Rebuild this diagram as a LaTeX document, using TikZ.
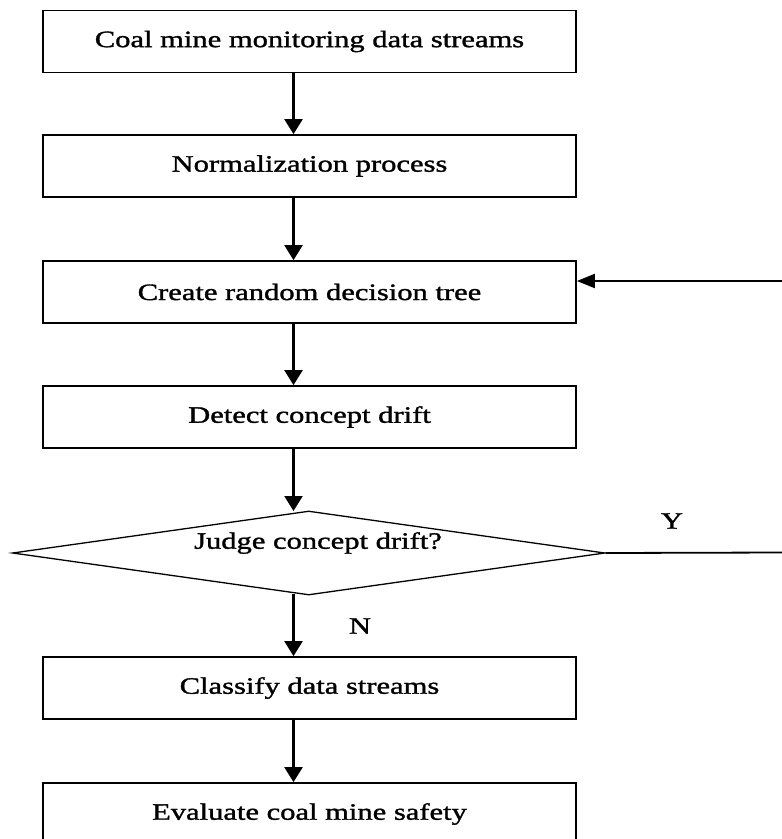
\documentclass[tikz,border=0pt]{standalone}
\usepackage{fontspec}
\setmainfont{Liberation Serif}[FakeStretch=1.3,FakeBold=1.4]
\usetikzlibrary{shapes.geometric,arrows.meta}
\begin{document}
\begin{tikzpicture}[x=1pt,y=-1pt,
  every node/.style={font=\fontsize{23.5}{28}\selectfont},
  stepbox/.style={draw,line width=1.7pt,minimum width=533pt,minimum height=62pt,inner sep=0pt},
  varrow/.style={line width=2.3pt,-{Triangle[width=18pt,length=15pt]}},
  harrow/.style={line width=2pt,-{Triangle[width=14pt,length=18pt]}},
  plainline/.style={line width=1.8pt}]
\useasboundingbox (0,0) rectangle (782,839);
\clip (0,0) rectangle (782,839);

% process boxes
\node[stepbox] (b1) at (309.5,41.5) {Coal mine monitoring data streams};
\node[stepbox] (b2) at (309.5,166) {Normalization process};
\node[stepbox] (b3) at (309.5,292) {Create random decision tree};
\node[stepbox] (b4) at (309.5,417) {Detect concept drift};
\node[stepbox] (b5) at (309.5,688) {Classify data streams};
\node[stepbox] (b6) at (309.5,814) {Evaluate coal mine safety};

% decision
\node[draw,diamond,line width=1.3pt,minimum width=592.5pt,minimum height=84pt,
      aspect=7.05,inner sep=0pt] (dec) at (308.75,553) {};
\node (dtxt) at (318,543) {Judge concept drift?};

% branch labels
\node (ylab) at (672,521) {Y};
\node (nlab) at (360,626) {N};

% main flow, drawn a little left of the box centres
\coordinate (ax) at (293.5,0);
\draw[varrow] (b1.south -| ax) -- (b2.north -| ax);
\draw[varrow] (b2.south -| ax) -- (b3.north -| ax);
\draw[varrow] (b3.south -| ax) -- (b4.north -| ax);
\draw[varrow] (b4.south -| ax) -- (293.5,511);
\draw[varrow] (293.5,594) -- (b5.north -| ax);
\draw[varrow] (b5.south -| ax) -- (b6.north -| ax);

% loop back on Y
\coordinate (yend) at (782,552.5);
\coordinate (fb) at (782,281);
\draw[plainline] (dec.east) -- (yend);
\draw[harrow] (fb) -- (fb -| b3.east);
\end{tikzpicture}
\end{document}
